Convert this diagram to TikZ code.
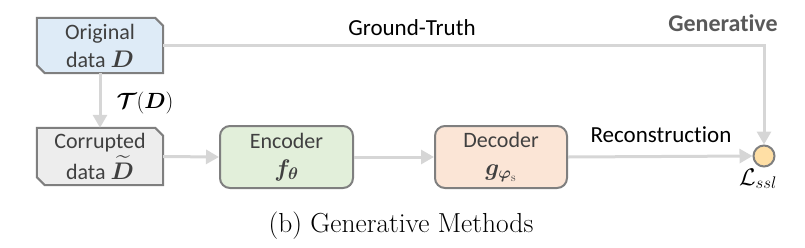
\RequirePackage{fix-cm}
\documentclass[tikz,border=0pt]{standalone}
\usepackage{amsmath}
\usepackage{bm}
\usepackage{fontspec}
\newfontfamily\carl[Ligatures={NoCommon}]{Carlito}
\usetikzlibrary{arrows.meta,backgrounds}
\definecolor{linegray}{HTML}{D6D6D6}
\definecolor{bordergray}{HTML}{7F7F7F}
\definecolor{textgray}{HTML}{404040}
\definecolor{origfill}{HTML}{DEEBF7}
\definecolor{corrfill}{HTML}{EDEDED}
\definecolor{encfill}{HTML}{E2EFDA}
\definecolor{decfill}{HTML}{FBE5D6}
\definecolor{lossfill}{HTML}{FFDFA5}
\definecolor{gentext}{HTML}{595959}
\newcommand{\boxmath}[1]{{\fontsize{24}{28}\selectfont$#1$}}
\tikzset{
  boxtext/.style={align=center,inner sep=0pt,text=textgray,font=\carl\fontsize{22}{28}\selectfont},
  roundbox/.style={draw=bordergray,line width=2pt,rounded corners=10pt,minimum width=133pt,minimum height=62pt,boxtext},
  chambox/.style={minimum width=126pt,minimum height=55pt,boxtext},
  chamline/.style={draw=bordergray,line width=2pt},
  conn/.style={draw=linegray,line width=3pt,-{Triangle[length=13pt,width=14pt]}},
  lab/.style={inner sep=0pt,anchor=base,font=\carl\fontsize{23}{26}\selectfont}
}
\begin{document}
\begin{tikzpicture}[x=1pt,y=-1pt]
\useasboundingbox (0,0) rectangle (805,247);
% nodes
\node[chambox] (orig) at (100,45.5) {Original\\data \boxmath{\boldsymbol{D}}};
\node[chambox,minimum height=57pt] (corr) at (100,156.5) {Corrupted\\[3pt]data \boxmath{\widetilde{\boldsymbol{D}}}};
\node[roundbox,fill=encfill] (enc) at (286.5,157) {Encoder\\\boxmath{\boldsymbol{f}_{\boldsymbol{\theta}}}};
\node[roundbox,fill=decfill,minimum width=132pt] (dec) at (501,157) {Decoder\\\boxmath{\boldsymbol{g}_{\boldsymbol{\varphi}_{\mathrm{s}}}}};
\node[circle,draw=bordergray,line width=2pt,fill=lossfill,minimum size=21pt,inner sep=0pt] (loss) at (764,156) {};
\begin{scope}[on background layer]
\foreach \n/\f in {orig/origfill,corr/corrfill}{
  \draw[chamline,fill=\f] (\n.north west) -- ([xshift=-8pt]\n.north east) -- ([yshift=-8pt]\n.north east) -- (\n.south east) -- ([xshift=8pt]\n.south west) -- ([yshift=8pt]\n.south west) -- cycle;
}
\end{scope}
% connectors
\draw[conn] (orig.south) -- (corr.north);
\draw[conn] (corr.east) -- (enc.west);
\draw[conn] (enc.east) -- (dec.west);
\draw[conn] (dec.east) -- (loss.west);
\draw[conn] (orig.east) -| (loss.north);
% labels
\node[lab] (gt) at (412,35) {Ground-Truth};
\node[lab,text=gentext,font=\carl\bfseries\fontsize{24}{26}\selectfont] (gen) at (723,31) {Generative};
\node[lab] (rec) at (661,142) {Reconstruction};
\node[inner sep=0pt,anchor=base,font=\fontsize{22}{26}\selectfont] (td) at (145,108) {$\boldsymbol{\mathcal{T}}(\boldsymbol{D})$};
\node[inner sep=0pt,anchor=base,font=\fontsize{24}{28}\selectfont] (ls) at (758,185) {$\mathcal{L}_{ssl}$};
\node[inner sep=0pt,anchor=base,font=\fontsize{27.5}{32}\selectfont] (cap) at (401,232) {(b)\ Generative Methods};
\end{tikzpicture}
\end{document}
